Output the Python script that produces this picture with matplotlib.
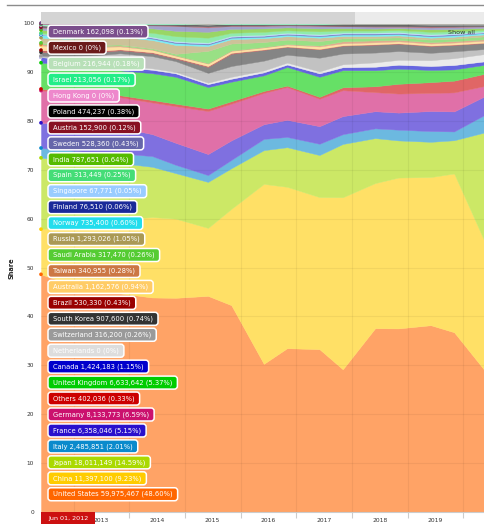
import matplotlib
matplotlib.use('Agg')
import matplotlib.pyplot as plt
import matplotlib.dates as mdates
from matplotlib.patches import FancyBboxPatch, Rectangle
from matplotlib.lines import Line2D
from matplotlib.transforms import IdentityTransform
from matplotlib.colors import to_rgb
import numpy as np
import pandas as pd

W, H = 484, 524

dates = pd.to_datetime([
    '2012-06-01', '2012-11-01', '2013-06-01', '2013-11-01', '2014-06-01',
    '2014-11-01', '2015-06-01', '2015-11-01', '2016-06-01', '2016-11-01',
    '2017-06-01', '2017-11-01', '2018-06-01', '2018-11-01', '2019-06-01',
    '2019-11-01', '2020-06-01'])

# stacking order, bottom first
countries = ['United States', 'China', 'Japan', 'Italy', 'France', 'Germany',
             'Others', 'United Kingdom', 'Canada', 'Netherlands', 'Switzerland',
             'South Korea', 'Brazil', 'Australia', 'Taiwan', 'Saudi Arabia',
             'Russia', 'Norway', 'Finland', 'Singapore', 'Spain', 'India',
             'Sweden', 'Austria', 'Poland', 'Hong Kong', 'Israel', 'Belgium',
             'Mexico', 'Denmark']

colors = ['#ff6600', '#ffcc00', '#aad900', '#0a8acc', '#2a10cc', '#cb116e',
          '#cc0000', '#00cc00', '#0000cc', '#dddddd', '#9a9a9a',
          '#333333', '#990000', '#ffcc66', '#cc7744', '#55cc33',
          '#aa9955', '#22dded', '#1a2a99', '#99ccff', '#44dd77', '#55bb00',
          '#6666aa', '#881122', '#000000', '#ee88cc', '#22ee88', '#b8e0b8',
          '#6b1a1a', '#7b4e8c']

# Rmax at Jun 01, 2012 (legend values)
rmax_first = [59975467, 11397100, 18011149, 2485851, 6358046, 8133773,
              402036, 6633642, 1424183, 0, 316200,
              907600, 530330, 1162576, 340955, 317470,
              1293026, 735400, 76510, 67771, 313449, 787651,
              528360, 152900, 474237, 0, 213056, 216944,
              0, 162098]

# share (%) per list
united_states = [48.6, 47.0, 45.5, 44.8, 44.0, 43.8, 44.2, 42.3, 30.3, 33.5, 33.3, 29.2, 37.6, 37.6, 38.2, 36.8, 28.5]
china = [9.23, 11.5, 14.0, 15.2, 16.5, 16.2, 13.9, 19.7, 36.8, 33.0, 31.1, 35.2, 29.7, 30.9, 30.3, 32.5, 26.0]
japan = [14.59, 13.5, 12.0, 11.5, 10.3, 9.3, 9.4, 8.3, 6.9, 8.1, 8.6, 10.9, 9.2, 7.6, 7.2, 6.8, 23.3]
italy = [2.01, 2.0, 2.0, 2.0, 2.2, 1.7, 1.4, 1.7, 2.3, 2.1, 2.3, 2.0, 2.0, 2.2, 2.2, 1.8, 3.7]
france = [5.15, 5.3, 5.5, 5.3, 4.5, 4.5, 4.3, 4.0, 3.0, 3.5, 3.6, 3.7, 3.5, 3.5, 4.1, 4.1, 3.8]
germany = [6.59, 6.7, 6.5, 6.2, 6.5, 7.5, 8.8, 7.5, 6.4, 6.7, 5.6, 5.3, 3.9, 3.9, 3.7, 3.9, 2.0]
others = [0.33, 0.3, 0.3, 0.4, 0.5, 0.5, 0.5, 0.5, 0.4, 0.3, 0.4, 0.6, 1.2, 2.0, 2.2, 2.4, 2.5]
united_kingdom = [5.37, 5.2, 5.2, 5.1, 5.5, 5.5, 4.4, 4.0, 3.2, 3.8, 4.1, 3.5, 3.3, 3.1, 2.5, 2.3, 1.8]
canada = [1.15, 1.0, 0.8, 0.7, 0.7, 0.7, 0.6, 0.6, 0.6, 0.5, 0.7, 0.6, 0.7, 0.8, 0.8, 0.9, 0.7]
netherlands = [0.0, 0.1, 0.2, 0.3, 0.3, 0.3, 0.3, 0.4, 0.4, 0.4, 0.4, 0.6, 0.9, 1.0, 1.2, 1.4, 1.5]
switzerland = [0.26, 0.5, 1.5, 2.5, 2.5, 2.2, 2.0, 2.2, 2.0, 1.6, 2.8, 2.2, 2.0, 1.8, 1.5, 1.4, 1.0]
south_korea = [0.74, 0.7, 0.6, 0.6, 0.6, 0.5, 1.2, 2.5, 2.2, 1.6, 1.7, 1.6, 1.6, 1.5, 1.4, 1.3, 1.2]
brazil = [0.43, 0.4, 0.3, 0.2, 0.2, 0.2, 0.2, 0.2, 0.1, 0.1, 0.1, 0.1, 0.1, 0.1, 0.1, 0.1, 0.1]
australia = [0.94, 0.9, 0.8, 0.6, 0.5, 0.4, 0.5, 0.4, 0.4, 0.4, 0.5, 0.4, 0.4, 0.4, 0.4, 0.4, 0.4]
taiwan = [0.28, 0.3, 0.2, 0.2, 0.1, 0.1, 0.1, 0.1, 0.1, 0.1, 0.2, 0.4, 0.4, 0.3, 0.3, 0.3, 0.3]
saudi_arabia = [0.26, 0.2, 0.2, 0.2, 0.2, 0.3, 2.5, 1.4, 1.0, 0.9, 0.9, 0.6, 0.5, 0.5, 0.5, 0.5, 0.6]
russia = [1.05, 1.1, 1.4, 1.6, 1.7, 1.8, 1.0, 0.9, 0.8, 0.7, 0.7, 0.5, 0.4, 0.4, 0.4, 0.4, 0.4]
norway = [0.60, 0.5, 0.4, 0.3, 0.3, 0.4, 0.3, 0.3, 0.3, 0.3, 0.3, 0.3, 0.3, 0.3, 0.3, 0.3, 0.3]
finland = [0.06, 0.1, 0.2, 0.2, 0.2, 0.2, 0.2, 0.2, 0.2, 0.2, 0.2, 0.2, 0.2, 0.2, 0.2, 0.2, 0.1]
singapore = [0.05, 0.1, 0.1, 0.2, 0.2, 0.2, 0.2, 0.2, 0.2, 0.2, 0.2, 0.2, 0.2, 0.2, 0.2, 0.2, 0.2]
spain = [0.25, 0.3, 0.4, 0.5, 0.8, 1.0, 1.0, 0.6, 0.6, 0.5, 0.6, 0.4, 0.4, 0.4, 0.5, 0.4, 0.3]
india = [0.64, 0.6, 0.7, 0.6, 0.9, 1.1, 1.2, 0.8, 0.7, 0.6, 0.6, 0.5, 0.4, 0.4, 0.5, 0.5, 0.4]
sweden = [0.43, 0.5, 0.6, 0.5, 0.6, 1.0, 0.9, 0.6, 0.5, 0.4, 0.5, 0.4, 0.4, 0.3, 0.4, 0.4, 0.3]
austria = [0.12, 0.1, 0.1, 0.1, 0.1, 0.1, 0.2, 0.1, 0.1, 0.1, 0.1, 0.1, 0.1, 0.1, 0.2, 0.1, 0.1]
poland = [0.38, 0.4, 0.3, 0.2, 0.2, 0.3, 0.4, 0.3, 0.3, 0.2, 0.3, 0.3, 0.4, 0.4, 0.4, 0.4, 0.3]
hong_kong = [0, 0, 0, 0, 0, 0, 0, 0, 0, 0, 0, 0, 0, 0, 0, 0, 0]
israel = [0.17, 0.2, 0.1, 0.1, 0.1, 0.1, 0.1, 0.1, 0.1, 0.1, 0.1, 0.1, 0.1, 0.1, 0.1, 0.1, 0.1]
belgium = [0.18, 0.2, 0.1, 0.05, 0.05, 0.05, 0.1, 0.05, 0.05, 0.05, 0.05, 0.05, 0.05, 0.05, 0.1, 0.1, 0.1]
mexico = [0, 0, 0, 0, 0, 0, 0, 0, 0, 0, 0, 0, 0, 0, 0, 0, 0]
denmark = [0.13, 0.2, 0.1, 0.05, 0.05, 0.05, 0.1, 0.05, 0.05, 0.05, 0.05, 0.1, 0.1, 0.1, 0.1, 0.1, 0.1]

series = [united_states, china, japan, italy, france, germany, others,
          united_kingdom, canada, netherlands, switzerland, south_korea, brazil,
          australia, taiwan, saudi_arabia, russia, norway, finland, singapore,
          spain, india, sweden, austria, poland, hong_kong, israel, belgium,
          mexico, denmark]

vals = np.array(series, dtype=float)
vals = vals / vals.sum(axis=0) * 100  # percent stacking


def soften(c, a=0.6):
    r, g, b = to_rgb(c)
    return (a * r + 1 - a, a * g + 1 - a, a * b + 1 - a)


fills = [soften(c) for c in colors]

fig = plt.figure(figsize=(W / 100, H / 100), dpi=100)
ax = fig.add_axes([41 / W, 12 / H, (W - 41) / W, (512 - 23) / H])

polys = ax.stackplot(dates, vals, colors=fills)
for p, c in zip(polys, fills):
    p.set_edgecolor(c)
    p.set_linewidth(0.3)

ax.set_xlim(pd.Timestamp('2012-06-01'), pd.Timestamp('2020-05-15'))
ax.set_ylim(0, 100)

ax.xaxis.set_major_locator(mdates.YearLocator())
ax.xaxis.set_major_formatter(plt.NullFormatter())
ax.set_xticks(pd.to_datetime([f'{y}-07-01' for y in range(2013, 2020)]), minor=True)
ax.xaxis.set_minor_formatter(mdates.DateFormatter('%Y'))
ax.tick_params(axis='x', which='major', length=4, color='#cccccc', width=0.8)
ax.tick_params(axis='x', which='minor', length=0, pad=4, labelsize=4.3,
               labelcolor='#333333')
ax.set_yticks(range(0, 101, 10))
ax.tick_params(axis='y', length=0, pad=5, labelsize=4.2, labelcolor='#333333')

ax.set_axisbelow(False)
ax.grid(True, which='major', color='k', alpha=0.05, lw=0.8)
for s in ['top', 'right', 'left']:
    ax.spines[s].set_visible(False)
ax.spines['bottom'].set_color('#cccccc')

# hover markers at the first point
cum = np.cumsum(vals[:, 0])
ax.scatter([dates[0]] * len(cum), cum, s=7, c=colors, zorder=5, clip_on=False,
           linewidths=0)

fig.text(12 / W, 1 - 268 / H, 'Share', rotation=90, fontsize=4.8,
         fontweight='bold', ha='center', va='center', color='#222222')

# top bar and rule
fig.add_artist(Line2D([7 / W, 1], [1 - 5 / H] * 2, color='#8c8c8c', lw=1))
fig.add_artist(Rectangle((41 / W, 1 - 24 / H), (355 - 41) / W, 12 / H,
                         transform=fig.transFigure, fc='#d4d4d4', ec='none'))
fig.add_artist(Rectangle((355 / W, 1 - 24 / H), (W - 355) / W, 12 / H,
                         transform=fig.transFigure, fc='#ebebeb', ec='none'))
fig.text(462 / W, 1 - 32 / H, 'Show all', fontsize=4.6, color='#333333',
         ha='center', va='center')

# date tooltip at bottom
fig.add_artist(Rectangle((41 / W, 0), 54 / W, 12 / H, transform=fig.transFigure,
                         fc='#cc1010', ec='none', zorder=6))
fig.text(68 / W, 1 - 518.5 / H, 'Jun 01, 2012', fontsize=4.6, color='white',
         ha='center', va='center', zorder=7)

# legend-like labels, top of stack first
total = sum(rmax_first)
renderer = fig.canvas.get_renderer()
order = list(range(len(countries)))[::-1]
for i, k in enumerate(order):
    pct = rmax_first[k] / total * 100
    pct_txt = '0%' if rmax_first[k] == 0 else f'{pct:.2f}%'
    label = f'{countries[k]} {rmax_first[k]:,} ({pct_txt})'
    yc = 31.7 + i * 15.95
    t = fig.text(53 / W, 1 - yc / H, label, fontsize=4.85, color='white',
                 ha='left', va='center', zorder=11)
    bb = t.get_window_extent(renderer)
    box = FancyBboxPatch((bb.x0 - 5, (H - yc) - 6.5), bb.width + 10, 13,
                         boxstyle='round,pad=0,rounding_size=3',
                         transform=IdentityTransform(), fc=colors[k],
                         ec='white', lw=1.1, zorder=10)
    fig.add_artist(box)

fig.savefig('out.png', dpi=100)
